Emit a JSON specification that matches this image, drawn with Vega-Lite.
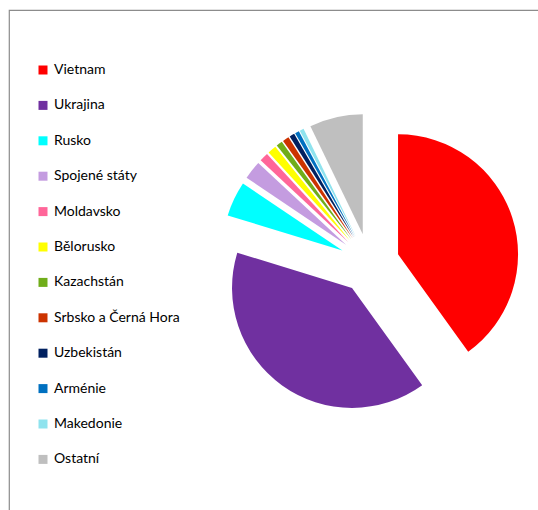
{
  "$schema": "https://vega.github.io/schema/vega-lite/v6.json",
  "width": 530,
  "height": 501,
  "autosize": {"type": "none"},
  "padding": {"left": 9, "top": 10, "right": 0, "bottom": 0},
  "background": "white",
  "view": {"stroke": "#8c8c8c", "strokeWidth": 1.2, "fill": "white"},
  "config": {
    "view": {"stroke": "#8c8c8c", "strokeWidth": 1.2, "fill": "white"},
    "font": "Lato"
  },
  "data": {
    "values": [
      {"i": 1, "country": "Vietnam", "value": 40.06},
      {"i": 2, "country": "Ukrajina", "value": 39.67},
      {"i": 3, "country": "Rusko", "value": 4.72},
      {"i": 4, "country": "Spojené státy", "value": 2.5},
      {"i": 5, "country": "Moldavsko", "value": 1.19},
      {"i": 6, "country": "Bělorusko", "value": 1.17},
      {"i": 7, "country": "Kazachstán", "value": 0.83},
      {"i": 8, "country": "Srbsko a Černá Hora", "value": 0.86},
      {"i": 9, "country": "Uzbekistán", "value": 0.69},
      {"i": 10, "country": "Arménie", "value": 0.56},
      {"i": 11, "country": "Makedonie", "value": 0.56},
      {"i": 12, "country": "Ostatní", "value": 7.19}
    ]
  },
  "transform": [
    {"joinaggregate": [{"op": "sum", "field": "value", "as": "total"}]},
    {"window": [{"op": "sum", "field": "value", "as": "cum"}], "sort": [{"field": "i"}], "frame": [null, 0]},
    {"calculate": "(datum.cum - datum.value)/datum.total", "as": "f0"},
    {"calculate": "datum.cum/datum.total", "as": "f1"},
    {"calculate": "2*PI*(datum.f0 + datum.f1)/2", "as": "mid"},
    {"calculate": "sin(datum.mid)", "as": "ex"},
    {"calculate": "-cos(datum.mid)", "as": "ey"}
  ],
  "mark": {"type": "arc", "radius": 120},
  "encoding": {
    "theta": {"field": "f0", "type": "quantitative", "stack": null, "scale": {"domain": [0, 1], "range": [0, 6.283185307]}},
    "theta2": {"field": "f1"},
    "xOffset": {"field": "ex", "type": "quantitative", "scale": {"domain": [-1, 1], "range": [65.5, 125.5]}},
    "yOffset": {"field": "ey", "type": "quantitative", "scale": {"domain": [-1, 1], "range": [-27, 33]}},
    "color": {
      "field": "country",
      "type": "nominal",
      "scale": {
        "domain": ["Vietnam", "Ukrajina", "Rusko", "Spojené státy", "Moldavsko", "Bělorusko", "Kazachstán", "Srbsko a Černá Hora", "Uzbekistán", "Arménie", "Makedonie", "Ostatní"],
        "range": ["#ff0000", "#7030a0", "#00ffff", "#c49ce0", "#ff6699", "#ffff00", "#70ad1a", "#cc3300", "#002060", "#0070c0", "#8fe3ee", "#bfbfbf"]
      },
      "legend": {
        "title": null,
        "orient": "none",
        "legendX": 27,
        "legendY": 53,
        "symbolType": "square",
        "symbolSize": 81,
        "symbolStrokeWidth": 0,
        "labelFont": "Lato",
        "labelFontSize": 14,
        "labelColor": "#000000",
        "labelOffset": 4,
        "rowPadding": 21.4,
        "labelLimit": 300
      }
    }
  }
}
